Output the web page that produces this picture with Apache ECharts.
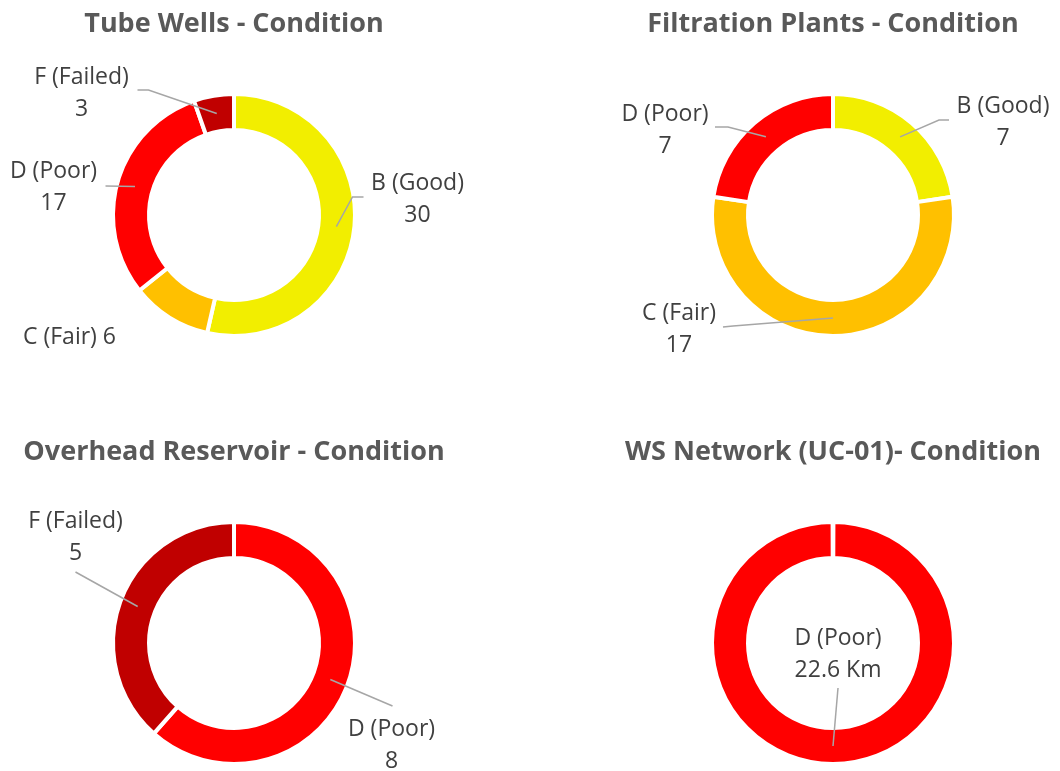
<!DOCTYPE html>
<html>
<head>
<meta charset="utf-8">
<script src="https://cdn.jsdelivr.net/npm/echarts@6/dist/echarts.min.js"></script>
<style>
  html, body { margin: 0; padding: 0; background: #fff; }
  #box { width: 1060px; height: 771px; }
</style>
</head>
<body>
<div id="box"></div>
<script>
// data
const tubeWellCats = ['B (Good)', 'C (Fair)', 'D (Poor)', 'F (Failed)'];
const tubeWellValues = [30, 6, 17, 3];

const filtrationCats = ['B (Good)', 'C (Fair)', 'D (Poor)'];
const filtrationValues = [7, 17, 7];

const reservoirCats = ['D (Poor)', 'F (Failed)'];
const reservoirValues = [8, 5];

const networkCats = ['D (Poor)'];
const networkValues = [22.6];
const networkUnit = 'Km';

const chartTitles = [
  'Tube Wells - Condition',
  'Filtration Plants - Condition',
  'Overhead Reservoir - Condition',
  'WS Network (UC-01)- Condition'
];

const gradeColors = {
  'B (Good)': '#F2EE00',
  'C (Fair)': '#FFC000',
  'D (Poor)': '#FF0000',
  'F (Failed)': '#C00000'
};

// layout (pixels)
const centers = [[234, 215], [833, 215], [234, 643], [833, 643]];
const titleTops = [11, 11, 439, 439];
const ringRadius = [85, 121];
const leaderRadius = 103;

// label placement relative to each ring centre: label centre, bend, end of leader
const labelPlaces = [
  [
    { label: [183.5, -16], bend: [118.5, -18], end: [129.5, -18] },
    { label: [-164.5, 122], noLine: true, oneLine: true },
    { label: [-180.5, -28], bend: [-128.5, -29], end: [-128.5, -29] },
    { label: [-152.5, -122], bend: [-85.5, -125], end: [-96.5, -125] }
  ],
  [
    { label: [170, -92.5], bend: [106, -95], end: [116, -95] },
    { label: [-154, 114], bend: [-100, 111], end: [-110, 112] },
    { label: [-168, -85], bend: [-105, -88], end: [-118, -88] }
  ],
  [
    { label: [157.5, 102], bend: [158.5, 63], end: [158.5, 63] },
    { label: [-158.5, -106], bend: [-158.5, -71], end: [-158.5, -71] }
  ],
  [
    { label: [5, 11], bend: [5, 45], end: [5, 45] }
  ]
];

const sets = [
  { cats: tubeWellCats, values: tubeWellValues },
  { cats: filtrationCats, values: filtrationValues },
  { cats: reservoirCats, values: reservoirValues },
  { cats: networkCats, values: networkValues, unit: networkUnit }
];

const chart = echarts.init(document.getElementById('box'));

const titles = chartTitles.map((t, i) => ({
  text: t,
  left: centers[i][0],
  top: titleTops[i],
  padding: 0,
  textAlign: 'center',
  textStyle: {
    fontFamily: 'Open Sans',
    fontWeight: 'bold',
    fontSize: 27,
    color: '#595959'
  }
}));

function midDirection(set, idx, center, pts) {
  if (pts && pts[0]) {
    const dx = pts[0][0] - center[0];
    const dy = pts[0][1] - center[1];
    const len = Math.sqrt(dx * dx + dy * dy) || 1;
    return [dx / len, dy / len];
  }
  const total = set.values.reduce((a, b) => a + b, 0);
  let before = 0;
  for (let k = 0; k < idx; k++) before += set.values[k];
  const a = (before + set.values[idx] / 2) / total * Math.PI * 2;
  return [Math.sin(a), -Math.cos(a)];
}

function ringBase(set, si) {
  const single = set.cats.length === 1;
  return {
    type: 'pie',
    center: centers[si],
    radius: ringRadius,
    startAngle: single ? 89.8 : 90,
    endAngle: single ? -269.8 : 'auto',
    avoidLabelOverlap: false,
    silent: true
  };
}

const series = [];

// coloured rings
sets.forEach((set, si) => {
  series.push(Object.assign(ringBase(set, si), {
    z: 2,
    itemStyle: { borderColor: '#fff', borderWidth: 4 },
    label: { show: false },
    labelLine: { show: false },
    data: set.cats.map((name, k) => ({
      name: name,
      value: set.values[k],
      itemStyle: { color: gradeColors[name] }
    }))
  }));
});

// transparent copies on top that carry the labels and leader lines
sets.forEach((set, si) => {
  series.push(Object.assign(ringBase(set, si), {
    z: 3,
    itemStyle: { color: 'rgba(0,0,0,0)', borderWidth: 0 },
    label: {
      show: true,
      position: 'outside',
      fontFamily: 'Open Sans',
      fontSize: 23,
      lineHeight: 32,
      color: '#404040',
      formatter: (p) => {
        const place = labelPlaces[si][p.dataIndex];
        const val = set.unit ? p.value + ' ' + set.unit : p.value;
        return place.oneLine ? p.name + ' ' + val : p.name + '\n' + val;
      }
    },
    labelLine: {
      show: true,
      length: 10,
      length2: 10,
      lineStyle: { color: '#A6A6A6', width: 1.5 }
    },
    labelLayout: (params) => {
      const place = labelPlaces[si][params.dataIndex];
      const c = centers[si];
      const out = {
        x: c[0] + place.label[0],
        y: c[1] + place.label[1],
        align: 'center',
        verticalAlign: 'middle'
      };
      if (!place.noLine) {
        const d = midDirection(set, params.dataIndex, c, params.labelLinePoints);
        out.labelLinePoints = [
          [c[0] + d[0] * leaderRadius, c[1] + d[1] * leaderRadius],
          [c[0] + place.bend[0], c[1] + place.bend[1]],
          [c[0] + place.end[0], c[1] + place.end[1]]
        ];
      }
      return out;
    },
    data: set.cats.map((name, k) => ({
      name: name,
      value: set.values[k],
      labelLine: { show: !labelPlaces[si][k].noLine }
    }))
  }));
});

chart.setOption({
  animation: false,
  title: titles,
  series: series
});
</script>
</body>
</html>
